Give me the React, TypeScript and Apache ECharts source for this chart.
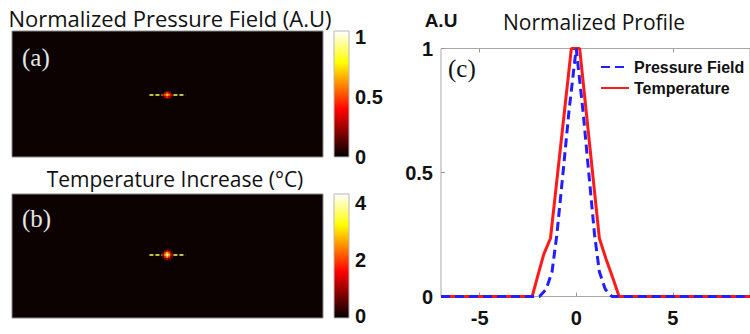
import React, { useEffect, useRef } from 'react';
import * as echarts from 'echarts';

// ---------- data ----------
const mapCols = Array.from({ length: 155 }, (_, i) => String(i));
const mapRows = Array.from({ length: 62 }, (_, i) => String(i));

// focal spot of the normalized pressure field (A.U), centred at col 77 / row 31
const spotACenter = [77, 31];
const spotA = [
  [0, 0.25, 0.42, 0.25, 0],
  [0.28, 0.52, 0.72, 0.52, 0.28],
  [0, 0.25, 0.42, 0.25, 0],
];
// focal spot of the temperature increase (°C), centred at col 77 / row 30
const spotBCenter = [77, 30];
const spotB = [
  [0, 0.6, 1.0, 0.6, 0],
  [0.6, 1.8, 2.6, 1.8, 0.6],
  [1.0, 2.6, 3.9, 2.6, 1.0],
  [0.6, 1.8, 2.6, 1.8, 0.6],
  [0, 0.6, 1.0, 0.6, 0],
];
// dashed profile line drawn across each map (cols, row)
const profileLineA = [[68, 31], [86, 31]];
const profileLineB = [[68, 30], [86, 30]];

const cbTicksA = [0, 0.5, 1];
const cbTicksB = [0, 2, 4];

const profileTicksX = [-5, 0, 5];
const profileTicksY = [0, 0.5, 1];

const pressureX = [-7, -1.9, -1.55, -1.25, -1.0, -0.68, -0.37, 0, 0.35, 0.65, 0.95, 1.2, 1.5, 1.85, 9];
const pressureY = [0, 0, 0.03, 0.1, 0.25, 0.5, 0.75, 1, 0.75, 0.5, 0.25, 0.1, 0.03, 0, 0];
const tempX = [-7, -2.28, -2.0, -1.68, -1.33, -0.25, 0.18, 1.2, 1.55, 1.92, 2.22, 9];
const tempY = [0, 0, 0.08, 0.17, 0.235, 1.0, 1.0, 0.235, 0.15, 0.07, 0, 0];

// MATLAB "hot" colormap
const hotColors = ['#000000', '#550000', '#aa0000', '#ff0000', '#ff5500', '#ffaa00', '#ffff00', '#ffff80', '#ffffff'];

function spotData(spot: number[][], center: number[]) {
  const hr = Math.floor(spot.length / 2);
  const out: number[][] = [];
  spot.forEach((row, r) => {
    const hc = Math.floor(row.length / 2);
    row.forEach((v, c) => {
      if (v > 0) out.push([center[0] - hc + c, center[1] - hr + r, v]);
    });
  });
  return out;
}

const zip = (xs: number[], ys: number[]) => xs.map((x, i) => [x, ys[i]]);

export default function App() {
  const ref = useRef<HTMLDivElement>(null);
  useEffect(() => {
    if (!ref.current) return;
    const chart = echarts.init(ref.current, undefined, { renderer: 'svg' });
    const gradient = {
      type: 'linear', x: 0, y: 0, x2: 0, y2: 1,
      colorStops: hotColors.slice().reverse().map((c, i, a) => ({ offset: i / (a.length - 1), color: c })),
    };
    const numFont = { fontFamily: 'Liberation Sans, Arial, sans-serif', fontWeight: 'bold' as const, fontSize: 20, color: '#111' };
    const titleFont = 'Open Sans, sans-serif';
    const hiddenCat = (grid: number, data: string[], inverse = false) => ({
      type: 'category', gridIndex: grid, data, show: false, inverse, boundaryGap: true,
    });
    const titleStyle = (text: string, size: number) => ({
      text, fill: '#111', fontFamily: titleFont, fontSize: size,
      textAlign: 'center', align: 'center', textVerticalAlign: 'middle', verticalAlign: 'middle',
    });
    const option: any = {
      animation: false,
      backgroundColor: '#ffffff',
      grid: [
        { left: 12, top: 31, width: 311, height: 126, show: true, backgroundColor: '#0d0202', borderColor: '#8a8a8a', borderWidth: 1 },
        { left: 334, top: 31, width: 15, height: 126, show: true, backgroundColor: gradient, borderColor: '#b8b8b8', borderWidth: 1 },
        { left: 12, top: 194, width: 311, height: 124, show: true, backgroundColor: '#0d0202', borderColor: '#8a8a8a', borderWidth: 1 },
        { left: 334, top: 194, width: 15, height: 124, show: true, backgroundColor: gradient, borderColor: '#b8b8b8', borderWidth: 1 },
        { left: 441, top: 48.5, width: 315, height: 248, show: true, backgroundColor: '#ffffff', borderColor: '#a8a8a8', borderWidth: 1 },
      ],
      xAxis: [
        hiddenCat(0, mapCols),
        { type: 'value', gridIndex: 1, min: 0, max: 1, show: false },
        hiddenCat(2, mapCols),
        { type: 'value', gridIndex: 3, min: 0, max: 1, show: false },
        {
          type: 'value', gridIndex: 4, min: -7, max: 9,
          axisLine: { show: false, onZero: false }, splitLine: { show: false },
          axisTick: { show: true, inside: true, length: 4, customValues: profileTicksX, lineStyle: { color: '#999' } },
          axisLabel: { ...numFont, margin: 11, customValues: profileTicksX },
        },
        {
          type: 'value', gridIndex: 4, min: -7, max: 9, position: 'top',
          axisLine: { show: false, onZero: false }, splitLine: { show: false }, axisLabel: { show: false },
          axisTick: { show: true, inside: true, length: 4, customValues: profileTicksX, lineStyle: { color: '#999' } },
        },
      ],
      yAxis: [
        hiddenCat(0, mapRows, true),
        {
          type: 'value', gridIndex: 1, min: 0, max: 1.05, position: 'right',
          axisLine: { show: false, onZero: false }, splitLine: { show: false }, axisTick: { show: false },
          axisLabel: { ...numFont, margin: 6, customValues: cbTicksA },
        },
        hiddenCat(2, mapRows, true),
        {
          type: 'value', gridIndex: 3, min: -0.07, max: 4.32, position: 'right',
          axisLine: { show: false, onZero: false }, splitLine: { show: false }, axisTick: { show: false },
          axisLabel: { ...numFont, margin: 6, customValues: cbTicksB },
        },
        {
          type: 'value', gridIndex: 4, min: 0, max: 1, position: 'left',
          name: 'A.U', nameLocation: 'end', nameGap: 19,
          nameTextStyle: { ...numFont, fontSize: 19, align: 'center' },
          axisLine: { show: false, onZero: false }, splitLine: { show: false },
          axisTick: { show: true, inside: true, length: 4, customValues: profileTicksY, lineStyle: { color: '#999' } },
          axisLabel: { ...numFont, margin: 8, customValues: profileTicksY },
        },
      ],
      visualMap: [
        { type: 'continuous', show: false, seriesIndex: 1, min: 0, max: 1, inRange: { color: hotColors } },
        { type: 'continuous', show: false, seriesIndex: 3, min: 0, max: 4, inRange: { color: hotColors } },
      ],
      legend: {
        data: ['Pressure Field', 'Temperature'],
        orient: 'vertical', left: 595, top: 54, itemWidth: 28, itemHeight: 12, itemGap: 5,
        itemStyle: { opacity: 0, color: 'rgba(0,0,0,0)', borderColor: 'rgba(0,0,0,0)', borderWidth: 0 },
        textStyle: { fontFamily: 'Liberation Sans, Arial, sans-serif', fontWeight: 'bold', fontSize: 16, color: '#111' },
      },
      series: [
        {
          type: 'line', xAxisIndex: 0, yAxisIndex: 0, data: profileLineA, symbol: 'none', silent: true,
          lineStyle: { color: '#c2c23a', width: 2, type: [4, 2] }, z: 2,
        },
        {
          type: 'heatmap', xAxisIndex: 0, yAxisIndex: 0, data: spotData(spotA, spotACenter), silent: true, z: 3,
        },
        {
          type: 'line', xAxisIndex: 2, yAxisIndex: 2, data: profileLineB, symbol: 'none', silent: true,
          lineStyle: { color: '#c2c23a', width: 2, type: [4, 2] }, z: 2,
        },
        {
          type: 'heatmap', xAxisIndex: 2, yAxisIndex: 2, data: spotData(spotB, spotBCenter), silent: true, z: 3,
        },
        {
          name: 'Pressure Field', type: 'line', xAxisIndex: 4, yAxisIndex: 4, data: zip(pressureX, pressureY),
          symbol: 'none', lineStyle: { color: '#1f1fff', width: 3, type: [9, 5] }, itemStyle: { color: '#1f1fff' }, z: 3,
        },
        {
          name: 'Temperature', type: 'line', xAxisIndex: 4, yAxisIndex: 4, data: zip(tempX, tempY),
          symbol: 'none', lineStyle: { color: '#ff1a1a', width: 3 }, itemStyle: { color: '#ff1a1a' }, z: 2,
        },
      ],
      graphic: [
        { type: 'text', x: 170, y: 18, style: titleStyle('Normalized Pressure Field (A.U)', 22) },
        { type: 'text', x: 175, y: 179, style: titleStyle('Temperature Increase (°C)', 21) },
        { type: 'text', x: 594, y: 22, style: titleStyle('Normalized Profile', 21) },
        { type: 'text', x: 22, y: 57, z: 10, style: { text: '(a)', fill: '#e6e6e6', fontFamily: 'Liberation Serif, serif', fontSize: 25, textVerticalAlign: 'middle', verticalAlign: 'middle' } },
        { type: 'text', x: 22, y: 218, z: 10, style: { text: '(b)', fill: '#e6e6e6', fontFamily: 'Liberation Serif, serif', fontSize: 25, textVerticalAlign: 'middle', verticalAlign: 'middle' } },
        { type: 'text', x: 448, y: 68, z: 10, style: { text: '(c)', fill: '#111', fontFamily: 'Liberation Serif, serif', fontSize: 25, textVerticalAlign: 'middle', verticalAlign: 'middle' } },
      ],
    };
    chart.setOption(option);
    return () => chart.dispose();
  }, []);
  return <div ref={ref} style={{ position: 'fixed', left: 0, top: 0, width: 750, height: 334 }} />;
}
